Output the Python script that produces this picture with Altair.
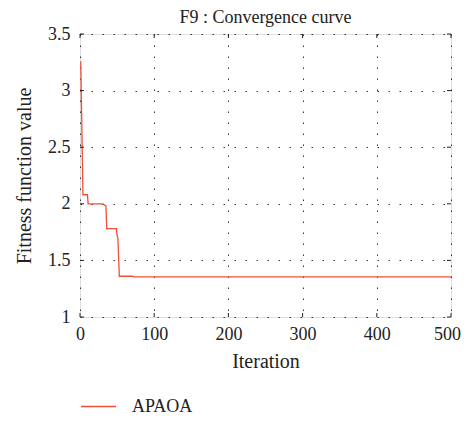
import altair as alt
import pandas as pd

# ---- data ----
iterations = [1, 4, 10, 11, 31, 35, 36, 49, 50, 51, 53, 71, 72, 500]
fitness = [3.26, 2.08, 2.08, 2.00, 2.00, 1.98, 1.78, 1.78, 1.72, 1.70, 1.36, 1.36, 1.355, 1.355]
algorithm = ["APAOA"] * len(iterations)
x_ticks = [0, 100, 200, 300, 400, 500]
y_ticks = [1, 1.5, 2, 2.5, 3, 3.5]

W, H = 371, 283
FONT = "Liberation Serif"
TXT = "#222222"
LINE_COLOR = "#f04e37"

df = pd.DataFrame({"Iteration": iterations, "Fitness": fitness, "Algorithm": algorithm})
xt = pd.DataFrame({"v": x_ticks})
yt = pd.DataFrame({"v": y_ticks})

x_scale = alt.Scale(domain=[0, 500], nice=False, zero=False)
y_scale = alt.Scale(domain=[1, 3.5], nice=False, zero=False)

common_axis = dict(grid=True, gridDash=[1.5, 9.5], gridColor="#333333", gridWidth=1,
                   domain=False, ticks=False, labelFont=FONT, labelFontSize=18,
                   labelColor=TXT, titleFont=FONT, titleFontSize=20,
                   titleFontWeight="normal", titleColor=TXT)

line = alt.Chart(df).mark_line(strokeWidth=1.3).encode(
    x=alt.X("Iteration:Q", scale=x_scale,
            axis=alt.Axis(values=x_ticks, title="Iteration", labelPadding=8,
                          titlePadding=8, format="d", labelFlush=False,
                          labelOffset={"condition": {"test": "datum.value === 500", "value": -4},
                                       "value": 0},
                          **common_axis)),
    y=alt.Y("Fitness:Q", scale=y_scale,
            axis=alt.Axis(values=y_ticks, title="Fitness function value", labelPadding=10,
                          titlePadding=13, format="~g", labelFlush=False, **common_axis)),
    color=alt.Color("Algorithm:N", scale=alt.Scale(range=[LINE_COLOR]),
                    legend=alt.Legend(title=None, orient="none", legendX=0, legendY=H + 71,
                                      symbolType="stroke", symbolSize=1225,
                                      symbolStrokeWidth=1.3, labelFont=FONT,
                                      labelFontSize=18, labelColor=TXT, labelOffset=15)),
)

tick_style = dict(color="#222222", strokeWidth=1)
xb = alt.Chart(xt).mark_rule(**tick_style).encode(
    x=alt.X("v:Q", scale=x_scale), y=alt.value(H), y2=alt.value(H - 4))
xtp = alt.Chart(xt).mark_rule(**tick_style).encode(
    x=alt.X("v:Q", scale=x_scale), y=alt.value(0), y2=alt.value(4))
yl = alt.Chart(yt).mark_rule(**tick_style).encode(
    y=alt.Y("v:Q", scale=y_scale), x=alt.value(0), x2=alt.value(4))
yr = alt.Chart(yt).mark_rule(**tick_style).encode(
    y=alt.Y("v:Q", scale=y_scale), x=alt.value(W), x2=alt.value(W - 4))

chart = alt.layer(line, xb, xtp, yl, yr).properties(
    width=W, height=H,
    title=alt.TitleParams("F9 : Convergence curve", font=FONT, fontSize=18,
                          fontWeight="normal", color=TXT, anchor="middle", offset=-2),
    autosize=alt.AutoSizeParams(type="none"),
    padding={"left": 72, "top": 26, "right": 11, "bottom": 98},
).configure_view(stroke="#222222", strokeWidth=1.4).configure(background="white")

chart.save("out.html", embed_options={"renderer": "svg", "actions": False})
